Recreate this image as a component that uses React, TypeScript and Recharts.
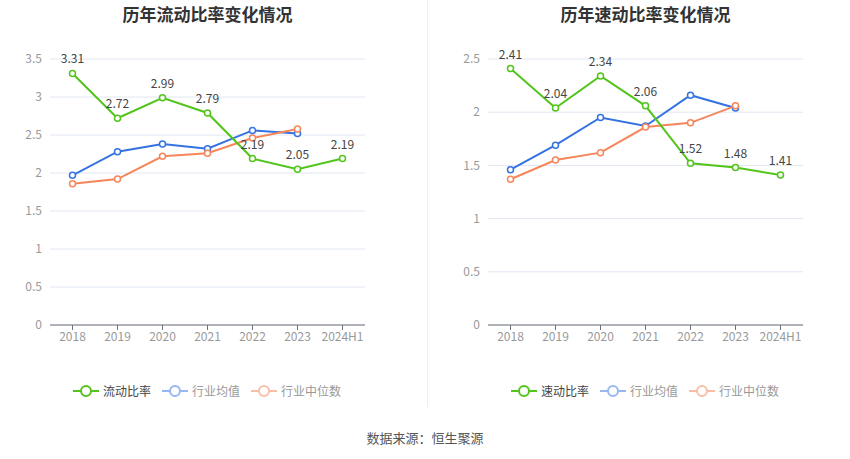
import React from "react";
import { LineChart, Line, XAxis, YAxis, CartesianGrid, LabelList } from "recharts";

const categories = ["2018", "2019", "2020", "2021", "2022", "2023", "2024H1"];
const currentRatio = [3.31, 2.72, 2.99, 2.79, 2.19, 2.05, 2.19];
const industryAvgCR = [1.97, 2.28, 2.38, 2.32, 2.56, 2.52, null];
const industryMedianCR = [1.86, 1.92, 2.22, 2.26, 2.46, 2.58, null];
const quickRatio = [2.41, 2.04, 2.34, 2.06, 1.52, 1.48, 1.41];
const industryAvgQR = [1.46, 1.69, 1.95, 1.87, 2.16, 2.04, null];
const industryMedianQR = [1.37, 1.55, 1.62, 1.86, 1.9, 2.06, null];
const crTicks = [0, 0.5, 1, 1.5, 2, 2.5, 3, 3.5];
const qrTicks = [0, 0.5, 1, 1.5, 2, 2.5];

const GREEN = "#52c41a";
const BLUE = "#3572e2";
const ORANGE = "#f6865a";
const FONT = '"Noto Sans CJK SC", "Noto Sans", sans-serif';

function build(main: number[], avg: (number | null)[], med: (number | null)[]) {
  return categories.map((c, i) => ({ name: c, main: main[i], avg: avg[i], med: med[i] }));
}

const dotStyle = (color: string) => ({ r: 3, stroke: color, strokeWidth: 1.5, fill: "#fff" });

function LegendItem({ color, label, textColor, left }: { color: string; label: string; textColor: string; left: number }) {
  return (
    <div style={{ position: "absolute", left, top: 383, height: 16, display: "flex", alignItems: "center" }}>
      <svg width={26} height={16} style={{ display: "block" }}>
        <line x1={0} y1={8} x2={26} y2={8} stroke={color} strokeWidth={2} />
        <circle cx={13} cy={8} r={5} stroke={color} strokeWidth={2} fill="#fff" />
      </svg>
      <span style={{ marginLeft: 4, fontSize: 12, color: textColor, whiteSpace: "nowrap", lineHeight: "16px" }}>{label}</span>
    </div>
  );
}

function Panel({ left, title, mainName, data, ticks, max }: { left: number; title: string; mainName: string; data: any[]; ticks: number[]; max: number }) {
  return (
    <div style={{ position: "absolute", left, top: 0, width: 425, height: 410 }}>
      <div style={{ position: "absolute", left: 50, width: 315, top: 2, textAlign: "center", fontSize: 17, fontWeight: "bold", color: "#333", lineHeight: "24px" }}>
        {title}
      </div>
      <div style={{ position: "absolute", left: 0, top: 0 }}>
        <LineChart width={425} height={410} data={data} margin={{ top: 59, right: 60, left: 0, bottom: 55 }}>
          <CartesianGrid vertical={false} stroke="#e0e6f1" />
          <XAxis
            dataKey="name"
            height={30}
            padding={{ left: 22.5, right: 22.5 }}
            axisLine={{ stroke: "#6e7079" }}
            tickLine={{ stroke: "#6e7079" }}
            tickSize={5}
            tick={{ fill: "#999", fontSize: 12, fontFamily: FONT }}
            interval={0}
          />
          <YAxis
            width={50}
            domain={[0, max]}
            ticks={ticks}
            axisLine={false}
            tickLine={false}
            tick={{ fill: "#999", fontSize: 12, fontFamily: FONT }}
          />
          <Line dataKey="avg" stroke={BLUE} strokeWidth={2} dot={dotStyle(BLUE)} isAnimationActive={false} connectNulls={false} />
          <Line dataKey="med" stroke={ORANGE} strokeWidth={2} dot={dotStyle(ORANGE)} isAnimationActive={false} connectNulls={false} />
          <Line dataKey="main" stroke={GREEN} strokeWidth={2} dot={dotStyle(GREEN)} isAnimationActive={false}>
            <LabelList dataKey="main" position="top" offset={10} fill="#444" fontSize={12} fontFamily={FONT} />
          </Line>
        </LineChart>
      </div>
      <LegendItem color={GREEN} label={mainName} textColor="#444" left={73} />
      <LegendItem color="#98b6f2" label="行业均值" textColor="#999" left={162} />
      <LegendItem color="#f9bea6" label="行业中位数" textColor="#999" left={251} />
    </div>
  );
}

export default function App() {
  return (
    <div style={{ position: "absolute", left: 0, top: 0, width: 850, height: 459, background: "#fff", fontFamily: FONT, overflow: "hidden" }}>
      <Panel left={0} title="历年流动比率变化情况" mainName="流动比率" data={build(currentRatio, industryAvgCR, industryMedianCR)} ticks={crTicks} max={3.5} />
      <Panel left={438} title="历年速动比率变化情况" mainName="速动比率" data={build(quickRatio, industryAvgQR, industryMedianQR)} ticks={qrTicks} max={2.5} />
      <div style={{ position: "absolute", left: 427, top: 0, width: 1, height: 407, background: "#eee" }} />
      <div style={{ position: "absolute", left: 0, width: 850, top: 429, textAlign: "center", fontSize: 13, color: "#555", lineHeight: "18px" }}>
        数据来源：恒生聚源
      </div>
    </div>
  );
}
